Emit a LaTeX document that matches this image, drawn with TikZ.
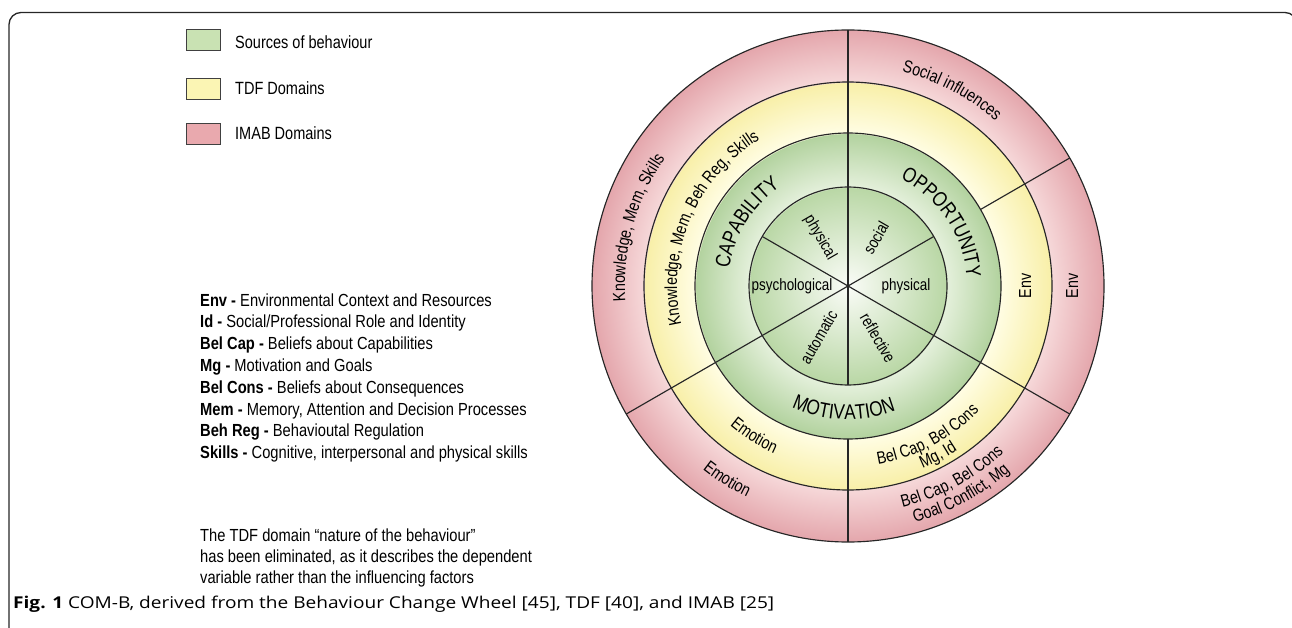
\documentclass[tikz,border=0pt]{standalone}
\usepackage{fontspec}
\setmainfont{Liberation Sans}[FakeStretch=0.82]
\newfontfamily\deffont{Liberation Sans}[FakeStretch=0.84]
\newfontfamily\capfont{Open Sans}[FakeStretch=1.17]
\usetikzlibrary{decorations.text}

% palette
\definecolor{lineclr}{HTML}{262626}
\definecolor{discIn}{HTML}{FAFCF7}
\definecolor{discOut}{HTML}{B9D7A5}
\definecolor{greenIn}{HTML}{E4F0DB}
\definecolor{greenOut}{HTML}{B2D29E}
\definecolor{yelIn}{HTML}{FFFDE3}
\definecolor{yelOut}{HTML}{F8EFA8}
\definecolor{redIn}{HTML}{F6D8D9}
\definecolor{redOut}{HTML}{E4A6AC}
\definecolor{legGreen}{HTML}{C9E2B3}
\definecolor{legYellow}{HTML}{FBF5B4}
\definecolor{legRed}{HTML}{E9A9AE}

% radial fill of the whole wheel: 25bp corresponds to the outer radius (256pt)
\pgfdeclareradialshading{wheelfill}{\pgfpointorigin}{%
  color(0bp)=(discIn);
  color(9.66bp)=(discOut);
  color(9.67bp)=(greenIn);
  color(14.93bp)=(greenOut);
  color(14.94bp)=(yelIn);
  color(19.91bp)=(yelOut);
  color(19.92bp)=(redIn);
  color(25bp)=(redOut);
  color(50bp)=(redOut)}

\newcommand\ringcapfont{\fontsize{21}{21}\selectfont}
\newcommand\ringtxtfont{\fontsize{17.4}{17.4}\selectfont}

\tikzset{
  wheelline/.style={draw=lineclr, line width=1.15pt},
  innerlbl/.style={font=\fontsize{16.4}{16.4}\selectfont, inner sep=0pt},
  ringlbl/.style={font=\ringtxtfont, inner sep=0pt},
  legbox/.style={draw=black!75, line width=0.9pt, minimum width=34pt, minimum height=21pt, inner sep=0pt},
  legtxt/.style={font=\fontsize{17.7}{17.7}\selectfont, anchor=west, inner sep=0pt},
  deftxt/.style={font=\deffont\fontsize{17.5}{17.5}\selectfont, anchor=base west, inner sep=0pt},
  arctext/.style={decorate, decoration={text along path, text align=center, text={#1}}},
}

\begin{document}
\begin{tikzpicture}[x=1pt, y=1pt]
\useasboundingbox (0,0) rectangle (1292,-628);

% frame
\draw[line width=1.3pt, black!85, rounded corners=12pt]
  (9,-640) -- (9,-12.5) -- (1297,-12.5) -- (1297,-640);

% legend
\node[legbox, fill=legGreen, anchor=north west] (lg1) at (186,-29) {};
\node[legbox, fill=legYellow, anchor=north west] (lg2) at (186,-78) {};
\node[legbox, fill=legRed, anchor=north west] (lg3) at (186,-123) {};
\node[legtxt] (lt1) at (235,-42) {Sources of behaviour};
\node[legtxt] (lt2) at (235,-88) {TDF Domains};
\node[legtxt] (lt3) at (235,-133) {IMAB Domains};

% abbreviations
\node[deftxt] (d1) at (200,-306.0) {\textbf{Env -} Environmental Context and Resources};
\node[deftxt] (d2) at (200,-327.8) {\textbf{Id -} Social/Professional Role and Identity};
\node[deftxt] (d3) at (200,-349.6) {\textbf{Bel Cap -} Beliefs about Capabilities};
\node[deftxt] (d4) at (200,-371.4) {\textbf{Mg -} Motivation and Goals};
\node[deftxt] (d5) at (200,-393.2) {\textbf{Bel Cons -} Beliefs about Consequences};
\node[deftxt] (d6) at (200,-415.0) {\textbf{Mem -} Memory, Attention and Decision Processes};
\node[deftxt] (d7) at (200,-436.8) {\textbf{Beh Reg -} Behavioutal Regulation};
\node[deftxt] (d8) at (200,-458.6) {\textbf{Skills -} Cognitive, interpersonal and physical skills};

\node[deftxt] (n1) at (200,-541) {The TDF domain \char"201Cnature of the behaviour\char"201D};
\node[deftxt] (n2) at (200,-562) {has been eliminated, as it describes the dependent};
\node[deftxt] (n3) at (200,-583) {variable rather than the influencing factors};

% caption
\node[anchor=base west, inner sep=0pt, font=\capfont\fontsize{16.3}{16.3}\selectfont] (cap) at (13,-608)
  {\textbf{Fig. 1} COM-B, derived from the Behaviour Change Wheel [45], TDF [40], and IMAB [25]};

% ---- wheel ----
\coordinate (c) at (848,-286);
\shade[shading=wheelfill] (c) circle[radius=256pt];

% spokes
\draw[wheelline] (c) -- ++(90:256pt);
\draw[wheelline] (c) -- ++(210:256pt);
\draw[wheelline] (c) -- ++(330:256pt);
\draw[wheelline] (c) -- ++(30:99pt);
\draw[wheelline] (c) -- ++(150:99pt);
\draw[wheelline] (c) -- ++(270:99pt);
\draw[wheelline] ([shift={(30:153pt)}]c) -- ([shift={(30:256pt)}]c);
\draw[wheelline] ([shift={(270:153pt)}]c) -- ([shift={(270:256pt)}]c);

% rings
\draw[wheelline] (c) circle[radius=99pt];
\draw[wheelline] (c) circle[radius=153pt];
\draw[wheelline] (c) circle[radius=204pt];
\draw[wheelline] (c) circle[radius=256pt];

% inner sectors
\node[innerlbl, rotate=-60] (s1) at ([shift={(120:56pt)}]c) {physical};
\node[innerlbl, rotate=60] (s2) at ([shift={(60:56pt)}]c) {social};
\node[innerlbl] (s3) at ([shift={(180:56pt)}]c) {psychological};
\node[innerlbl] (s4) at ([shift={(0:58pt)}]c) {physical};
\node[innerlbl, rotate=60] (s5) at ([shift={(240:59pt)}]c) {automatic};
\node[innerlbl, rotate=-60] (s6) at ([shift={(300:60pt)}]c) {reflective};

% sources of behaviour
\path[arctext={|\ringcapfont|CAPABILITY}]
  ([shift={(198:120pt)}]c) arc[start angle=198, end angle=98, radius=120pt];
\path[arctext={|\ringcapfont|OPPORTUNITY}]
  ([shift={(84:119pt)}]c) arc[start angle=84, end angle=-16, radius=119pt];
\path[arctext={|\ringcapfont|MOTIVATION}]
  ([shift={(218:133.5pt)}]c) arc[start angle=218, end angle=318, radius=133.5pt];

% TDF domains
\path[arctext={|\ringtxtfont|Knowledge, Mem, Beh Reg, Skills}]
  ([shift={(222:171pt)}]c) arc[start angle=222, end angle=92, radius=171pt];
\node[ringlbl, rotate=90] (ty1) at ([shift={(0:177pt)}]c) {Env};
\path[arctext={|\ringtxtfont|Emotion}]
  ([shift={(208:183pt)}]c) arc[start angle=208, end angle=268, radius=183pt];
\path[arctext={|\ringtxtfont|Bel Cap, Bel Cons}]
  ([shift={(258:181pt)}]c) arc[start angle=258, end angle=338, radius=181pt];
\path[arctext={|\ringtxtfont|Mg, Id}]
  ([shift={(268:197pt)}]c) arc[start angle=268, end angle=328, radius=197pt];

% IMAB domains
\path[arctext={|\ringtxtfont|Knowledge, Mem, Skills}]
  ([shift={(215:223pt)}]c) arc[start angle=215, end angle=114, radius=223pt];
\path[arctext={|\ringtxtfont|Social influences}]
  ([shift={(102:221pt)}]c) arc[start angle=102, end angle=22, radius=221pt];
\node[ringlbl, rotate=90] (tr1) at ([shift={(0:224pt)}]c) {Env};
\path[arctext={|\ringtxtfont|Emotion}]
  ([shift={(208:234pt)}]c) arc[start angle=208, end angle=268, radius=234pt];
\path[arctext={|\ringtxtfont|Bel Cap, Bel Cons}]
  ([shift={(268:228pt)}]c) arc[start angle=268, end angle=329, radius=228pt];
\path[arctext={|\ringtxtfont|Goal Conflict, Mg}]
  ([shift={(268:246pt)}]c) arc[start angle=268, end angle=329, radius=246pt];
\end{tikzpicture}
\end{document}
